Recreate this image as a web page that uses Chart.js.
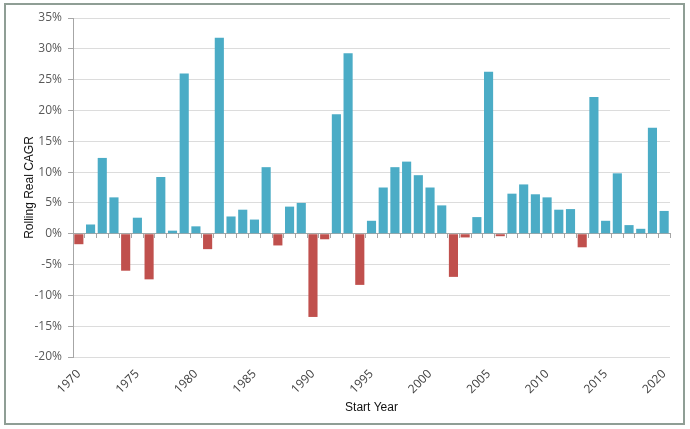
<!DOCTYPE html>
<html>
<head>
<meta charset="utf-8">
<script src="https://cdn.jsdelivr.net/npm/chart.js@4"></script>
<style>
  html, body { margin: 0; padding: 0; background: #fff; }
  #wrap { position: relative; width: 690px; height: 429px; }
  #frame {
    position: absolute; left: 4px; top: 3px; width: 677px; height: 418px;
    border: 2px solid #8f9e95; pointer-events: none;
  }
  canvas { position: absolute; left: 0; top: 0; }
</style>
</head>
<body>
<div id="wrap">
  <canvas id="cagrChart" width="690" height="429"></canvas>
  <div id="frame"></div>
</div>
<script>
const years = [];
for (let y = 1970; y <= 2020; y++) years.push(String(y));

// rolling real CAGR, %
const cagr = [
  -1.7, 1.5, 12.3, 5.9, -6.0, 2.6, -7.4, 9.2, 0.5, 26.0,
  1.2, -2.5, 31.8, 2.8, 3.9, 2.3, 10.8, -1.9, 4.4, 5.0,
  -13.5, -0.9, 19.4, 29.3, -8.3, 2.1, 7.5, 10.8, 11.7, 9.5,
  7.5, 4.6, -7.0, -0.6, 2.7, 26.3, -0.4, 6.5, 8.0, 6.4,
  5.9, 3.9, 4.0, -2.2, 22.2, 2.1, 9.8, 1.4, 0.8, 17.2,
  3.7
];

const yTicks = [-20, -15, -10, -5, 0, 5, 10, 15, 20, 25, 30, 35];

const blue = "#4bacc6";
const red = "#c0504d";
const tickFont = { family: "'Open Sans', 'Liberation Sans', sans-serif", size: 12 };
const titleFont = { family: "'Liberation Sans', Arial, sans-serif", size: 12 };

new Chart(document.getElementById("cagrChart"), {
  type: "bar",
  data: {
    labels: years,
    datasets: [{
      data: cagr,
      backgroundColor: cagr.map(v => v >= 0 ? blue : red),
      barPercentage: 0.78,
      categoryPercentage: 1.0
    }]
  },
  options: {
    responsive: false,
    animation: false,
    layout: { padding: { top: 18, right: 20, bottom: 10, left: 18 } },
    plugins: {
      legend: { display: false },
      tooltip: { enabled: false }
    },
    scales: {
      x: {
        offset: true,
        grid: { display: false },
        border: { display: false },
        afterFit: axis => { axis.paddingLeft = 0; axis.paddingRight = 0; },
        ticks: {
          autoSkip: false,
          minRotation: 45,
          maxRotation: 45,
          color: "#404040",
          font: tickFont,
          padding: 2,
          callback: function (val, i) {
            const lab = years[i];
            return Number(lab) % 5 === 0 ? lab : "";
          }
        },
        title: {
          display: true,
          text: "Start Year",
          color: "#111",
          font: titleFont,
          padding: { top: 2 }
        }
      },
      x2: {
        axis: "x",
        type: "category",
        position: { y: 0 },
        offset: true,
        grid: {
          offset: true,
          drawOnChartArea: false,
          drawTicks: true,
          tickLength: 4,
          color: "#a6a6a6"
        },
        border: { display: true, color: "#a6a6a6" },
        ticks: { display: false }
      },
      y: {
        min: -20,
        max: 35,
        afterBuildTicks: axis => { axis.ticks = yTicks.map(v => ({ value: v })); },
        afterFit: axis => { axis.width = 55; },
        grid: { color: "#dcdcdc", tickLength: 5, tickColor: "#a6a6a6" },
        border: { display: true, color: "#a6a6a6" },
        ticks: {
          color: "#595959",
          font: tickFont,
          padding: 6,
          callback: v => v + "%"
        },
        title: {
          display: true,
          text: "Rolling Real CAGR",
          color: "#111",
          font: titleFont,
          padding: { bottom: 2 }
        }
      }
    }
  }
});
</script>
</body>
</html>
